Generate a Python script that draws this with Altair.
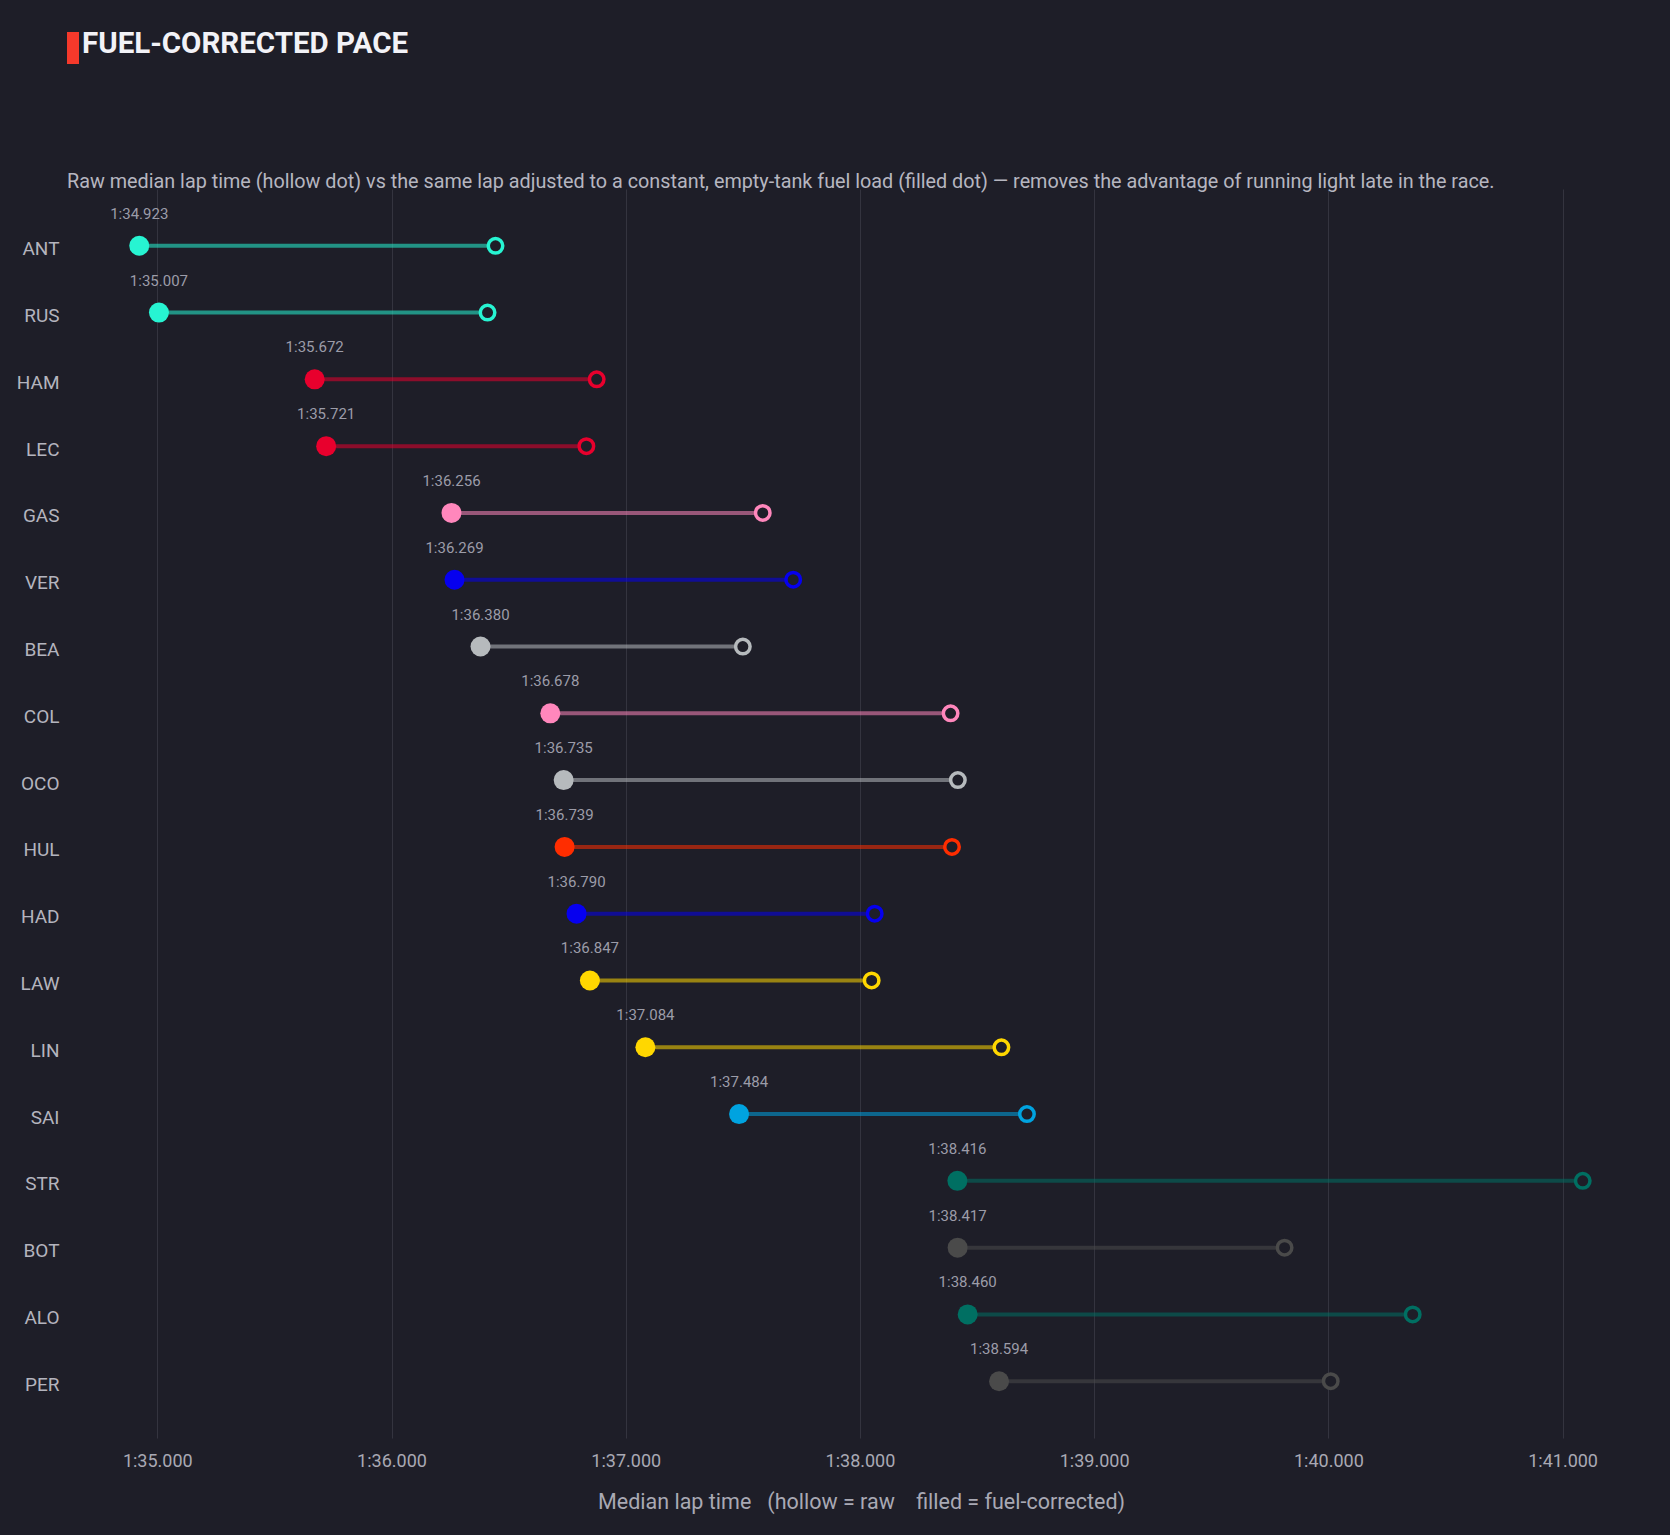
import altair as alt
import pandas as pd

# Drivers ordered by fuel-corrected median lap time (seconds)
drivers = ["ANT", "RUS", "HAM", "LEC", "GAS", "VER", "BEA", "COL", "OCO",
           "HUL", "HAD", "LAW", "LIN", "SAI", "STR", "BOT", "ALO", "PER"]
corrected = [94.923, 95.007, 95.672, 95.721, 96.256, 96.269, 96.380, 96.678, 96.735,
             96.739, 96.790, 96.847, 97.084, 97.484, 98.416, 98.417, 98.460, 98.594]
raw = [96.444, 96.410, 96.876, 96.832, 97.585, 97.715, 97.500, 98.387, 98.418,
       98.393, 98.063, 98.050, 98.604, 98.713, 101.086, 99.813, 100.360, 100.010]
team_colors = ["#27F4D2", "#27F4D2", "#E8002D", "#E8002D", "#FF87BC", "#0600EF",
               "#B6BABD", "#FF87BC", "#B6BABD", "#FF2D00", "#0600EF", "#FFD700",
               "#FFD700", "#00A3E0", "#006F62", "#4A4A4A", "#006F62", "#4A4A4A"]
tick_values = [95, 96, 97, 98, 99, 100, 101]

TITLE = "FUEL-CORRECTED PACE"
SUBTITLE = ("Raw median lap time (hollow dot) vs the same lap adjusted to a constant, "
            "empty-tank fuel load (filled dot) \u2014 removes the advantage of running "
            "light late in the race.")
X_TITLE = "Median lap time\u00a0\u00a0 (hollow = raw\u00a0\u00a0\u00a0 filled = fuel-corrected)"

BG = "#1e1e28"
FONT = "Roboto, sans-serif"


def laptime(v):
    return f"{int(v // 60)}:{v % 60:06.3f}"


df = pd.DataFrame({"driver": drivers, "corrected": corrected, "raw": raw,
                   "color": team_colors})
df["label"] = df["corrected"].map(laptime)

x_scale = alt.Scale(domain=[min(corrected) - 0.3, max(raw) + 0.3], nice=False, zero=False)
y_scale = alt.Scale(type="point", domain=drivers, padding=0.85)

x_axis = alt.Axis(
    values=tick_values,
    labelExpr="floor(datum.value / 60) + ':' + format(datum.value % 60, '06.3f')",
    labelFontSize=18, labelColor="#a9a9b4", labelPadding=14, labelFont=FONT,
    ticks=False, domain=False, grid=True, gridColor="#34343f", gridWidth=1,
    title=X_TITLE, titleFontSize=21.5, titleFontWeight="normal", titleColor="#a9a9b4",
    titleFont=FONT, titlePadding=21,
)
y_axis = alt.Axis(
    title=None, labelFontSize=19, labelColor="#b4b4be", labelPadding=10,
    labelOffset=3, labelFont=FONT, ticks=False, domain=False, grid=False,
)

base = alt.Chart(df)
y_enc = alt.Y("driver:N", scale=y_scale, axis=y_axis)

connectors = base.mark_rule(strokeWidth=4, opacity=0.55).encode(
    x=alt.X("corrected:Q", scale=x_scale, axis=x_axis),
    x2="raw:Q",
    y=y_enc,
    color=alt.Color("color:N", scale=None),
)

raw_dots = base.mark_circle(size=210, fill=BG, fillOpacity=1, strokeWidth=3.5,
                            opacity=1).encode(
    x="raw:Q",
    y="driver:N",
    stroke=alt.Stroke("color:N", scale=None),
)

corrected_dots = base.mark_circle(size=400, opacity=1).encode(
    x="corrected:Q",
    y="driver:N",
    color=alt.Color("color:N", scale=None),
)

value_labels = base.mark_text(dy=-32, fontSize=15, color="#9c9ca8", font=FONT).encode(
    x="corrected:Q",
    y="driver:N",
    text="label:N",
)

header_bar = alt.Chart(pd.DataFrame({"k": [0]})).mark_rect(color="#f5392b").encode(
    x=alt.value(-2), x2=alt.value(10), y=alt.value(-157), y2=alt.value(-125),
)
header = alt.Chart(pd.DataFrame({"t": [TITLE]})).mark_text(
    align="left", baseline="alphabetic", fontSize=29.5, fontWeight="bold",
    color="#f2f2f7", font=FONT,
).encode(x=alt.value(13), y=alt.value(-136), text="t:N")
subtitle = alt.Chart(pd.DataFrame({"t": [SUBTITLE]})).mark_text(
    align="left", baseline="alphabetic", fontSize=19.8, color="#b6b6c0", font=FONT,
).encode(x=alt.value(-2), y=alt.value(-1), text="t:N")

chart = alt.layer(
    connectors, raw_dots, corrected_dots, value_labels, header_bar, header, subtitle
).properties(
    width=1584,
    height=1249,
    padding={"left": 69, "top": 189, "right": 17, "bottom": 97},
    autosize=alt.AutoSizeParams(type="none"),
    background=BG,
).configure(font=FONT).configure_view(stroke=None)

chart.save("out.html", embed_options={"renderer": "svg", "actions": False})
